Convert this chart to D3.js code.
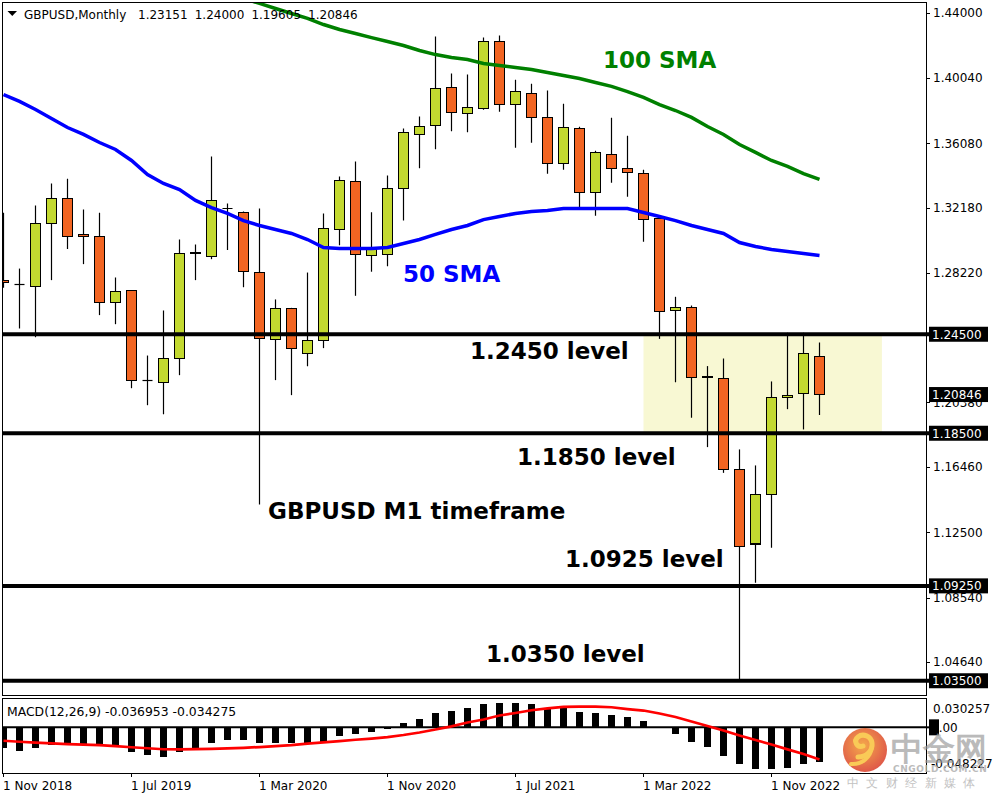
<!DOCTYPE html>
<html>
<head>
<meta charset="utf-8">
<script src="https://cdnjs.cloudflare.com/ajax/libs/d3/7.8.5/d3.min.js"></script>
<style>
  html, body { margin: 0; padding: 0; background: #fff; }
  svg { display: block; }
  text { font-family: "DejaVu Sans", Verdana, sans-serif; }
</style>
</head>
<body>
<script>
// ---------------- DATA ----------------
const months = d3.timeMonth.range(new Date(2018, 10, 1), new Date(2023, 2, 1)); // Nov 2018 .. Feb 2023 (52 bars)

const open  = [1.2774,1.2755,1.2738,1.3119,1.3271,1.3053,1.3041,1.2641,1.2713,1.2174,1.2156,1.2301,1.2938,1.2919,1.3216,1.3186,1.2822,1.2416,1.2604,1.2331,1.2410,1.3083,1.3374,1.2925,1.2932,1.3332,1.3659,1.3713,1.3944,1.3786,1.3816,1.4222,1.3841,1.3907,1.3762,1.3483,1.3695,1.3307,1.3538,1.3453,1.3422,1.3152,1.2592,1.2610,1.2187,1.2180,1.1630,1.1179,1.1477,1.2067,1.2089,1.23151];
const high  = [1.3186,1.2848,1.3230,1.3364,1.3392,1.3206,1.3186,1.2794,1.2713,1.2321,1.2594,1.3024,1.2994,1.3527,1.3242,1.3194,1.3212,1.2661,1.2610,1.2824,1.3182,1.3406,1.3497,1.3190,1.3412,1.3697,1.3770,1.4255,1.4030,1.4024,1.4248,1.4261,1.3992,1.3968,1.3927,1.3847,1.3707,1.3562,1.3762,1.3653,1.3447,1.3152,1.2677,1.2624,1.2257,1.2303,1.1752,1.1655,1.2164,1.2459,1.2459,1.24000];
const low   = [1.2732,1.2485,1.2432,1.2778,1.2966,1.2875,1.2566,1.2511,1.2123,1.2020,1.1965,1.2202,1.2778,1.2905,1.2961,1.2735,1.1418,1.2172,1.2081,1.2256,1.2366,1.2990,1.2683,1.2829,1.2862,1.3139,1.3456,1.3571,1.3681,1.3675,1.3810,1.3798,1.3580,1.3610,1.3422,1.3447,1.3216,1.3168,1.3368,1.3283,1.3010,1.2422,1.2159,1.1944,1.1766,1.1610,1.0360,1.0944,1.1156,1.1996,1.1873,1.19605];
const close = [1.2762,1.2753,1.3119,1.3271,1.3041,1.3041,1.2641,1.2707,1.2168,1.2174,1.2301,1.2938,1.2944,1.3259,1.3216,1.2829,1.2422,1.2604,1.2362,1.2410,1.3089,1.3380,1.2932,1.2972,1.3332,1.3671,1.3707,1.3938,1.3792,1.3822,1.4222,1.3841,1.3919,1.3762,1.3483,1.3701,1.3307,1.3550,1.3453,1.3429,1.3144,1.2586,1.2610,1.2186,1.2193,1.1630,1.1164,1.1477,1.2065,1.2079,1.2331,1.20846];

const sma50 = [1.3903,1.3861,1.3812,1.3758,1.3703,1.3661,1.3612,1.3570,1.3503,1.3418,1.3364,1.3327,1.3261,1.3218,1.3182,1.3139,1.3109,1.3085,1.3061,1.3024,1.2976,1.2970,1.2970,1.2970,1.2976,1.3000,1.3024,1.3055,1.3085,1.3109,1.3145,1.3164,1.3182,1.3194,1.3200,1.3212,1.3212,1.3212,1.3212,1.3212,1.3188,1.3164,1.3139,1.3109,1.3085,1.3061,1.3006,1.2982,1.2964,1.2952,1.2939,1.2927];
const sma100 = [null,null,null,null,null,null,null,null,null,null,null,null,null,null,null,
  1.4485,1.4455,1.4424,1.4394,1.4364,1.4327,1.4297,1.4273,1.4248,1.4224,1.4200,1.4170,1.4145,1.4127,1.4115,1.4091,1.4079,1.4067,1.4055,1.4036,1.4018,1.4000,1.3976,1.3952,1.3921,1.3885,1.3842,1.3806,1.3764,1.3709,1.3661,1.3600,1.3552,1.3503,1.3467,1.3424,1.3388];

const macdMain = [-0.02242,-0.02531,-0.02242,-0.01890,-0.01890,-0.01890,-0.01890,-0.01997,-0.02670,-0.02990,-0.03139,-0.02670,-0.02242,-0.01708,-0.01356,-0.01356,-0.01644,-0.01644,-0.01644,-0.01644,-0.01538,-0.00897,-0.00747,-0.00534,-0.00214,0.00491,0.00886,0.01559,0.01741,0.02093,0.02488,0.02627,0.02627,0.02488,0.02029,0.02029,0.01666,0.01559,0.01313,0.01132,0.00673,-0.00030,-0.00747,-0.01538,-0.02072,-0.03033,-0.03951,-0.04485,-0.04421,-0.04314,-0.03887,-0.036953];
const macdSignal = [-0.01431,-0.01538,-0.01623,-0.01708,-0.01783,-0.01837,-0.01890,-0.01997,-0.02125,-0.02232,-0.02338,-0.02349,-0.02317,-0.02296,-0.02253,-0.02189,-0.02104,-0.01997,-0.01890,-0.01730,-0.01612,-0.01463,-0.01324,-0.01196,-0.01036,-0.00822,-0.00555,-0.00235,0.00107,0.00513,0.00833,0.01260,0.01527,0.01826,0.02029,0.02178,0.02221,0.02210,0.02146,0.01954,0.01794,0.01474,0.01100,0.00619,0.00139,-0.00342,-0.00876,-0.01356,-0.01837,-0.02349,-0.02851,-0.034275];

const levels = [1.2450, 1.1850, 1.0925, 1.0350];
const levelLabels = ["1.2450 level", "1.1850 level", "1.0925 level", "1.0350 level"];
const zone = {from: 40, to: 54.9, top: 1.2450, bottom: 1.1850};

const priceTicks = [1.44000, 1.40040, 1.36080, 1.32180, 1.28220, 1.20380, 1.16460, 1.12500, 1.08540, 1.04640];
const priceTickLabels = ["1.44000","1.40040","1.36080","1.32180","1.28220","1.20380","1.16460","1.12500","1.08540","1.04640"];
const markedPrices = [1.24500, 1.20846, 1.18500, 1.09250, 1.03500];
const markedLabels = ["1.24500","1.20846","1.18500","1.09250","1.03500"];
const macdRange = [-0.048227, 0.030257];
const macdRangeLabels = ["-0.048227", "0.030257"];

const dateTickIndex = [0, 8, 16, 24, 32, 40, 48];
const dateTickLabels = ["1 Nov 2018","1 Jul 2019","1 Mar 2020","1 Nov 2020","1 Jul 2021","1 Mar 2022","1 Nov 2022"];

const headerSymbol = "GBPUSD,Monthly";
const headerOHLC = ["1.23151","1.24000","1.19605","1.20846"];
const macdTitle = "MACD(12,26,9) -0.036953 -0.034275";

// ---------------- LAYOUT ----------------
const L = 2.5, R = 926, mainTop = 2.5, mainBottom = 695.5, macdTop = 698.5, macdBottom = 773;
const bull = "#C3D930", bear = "#F26522";

const x = d3.scaleLinear().domain([0, 51]).range([3.5, 819.5]);
const y = d3.scaleLinear().domain([1.035, 1.44]).range([680.75, 12.5]);
const ym = d3.scaleLinear().domain(macdRange).range([772.5, 699]);

const svg = d3.select("body").append("svg").attr("width", 1000).attr("height", 800);
svg.append("rect").attr("width", 1000).attr("height", 800).attr("fill", "#fff");

const defs = svg.append("defs");
defs.append("clipPath").attr("id", "clipMain").append("rect")
  .attr("x", L + 0.5).attr("y", mainTop + 0.5).attr("width", R - L - 0.5).attr("height", mainBottom - mainTop - 0.5);
defs.append("clipPath").attr("id", "clipMacd").append("rect")
  .attr("x", L + 0.5).attr("y", macdTop + 0.5).attr("width", R - L - 0.5).attr("height", macdBottom - macdTop - 0.5);
const grad = defs.append("radialGradient").attr("id", "wmGrad").attr("cx", "45%").attr("cy", "40%").attr("r", "65%");
grad.append("stop").attr("offset", "0%").attr("stop-color", "#F39A2C");
grad.append("stop").attr("offset", "100%").attr("stop-color", "#D8352A");

const main = svg.append("g").attr("clip-path", "url(#clipMain)");

// zone
main.append("rect")
  .attr("x", x(zone.from)).attr("y", y(zone.top))
  .attr("width", x(zone.to) - x(zone.from)).attr("height", y(zone.bottom) - y(zone.top))
  .attr("fill", "#F8F8D3");

// candles
const bars = d3.range(months.length).map(i => ({i, o: open[i], h: high[i], l: low[i], c: close[i]}));
const cg = main.append("g");
cg.selectAll("line.wick").data(bars).join("line")
  .attr("class", "wick")
  .attr("x1", d => x(d.i)).attr("x2", d => x(d.i))
  .attr("y1", d => y(d.h)).attr("y2", d => y(d.l))
  .attr("stroke", "#000").attr("stroke-width", 1.2);
bars.forEach(d => {
  const top = y(Math.max(d.o, d.c)), bot = y(Math.min(d.o, d.c));
  if (bot - top < 0.8) {
    cg.append("line").attr("x1", x(d.i) - 5).attr("x2", x(d.i) + 5)
      .attr("y1", Math.round(top) + 0.5).attr("y2", Math.round(top) + 0.5)
      .attr("stroke", "#000").attr("stroke-width", 1.2);
  } else {
    cg.append("rect").attr("x", x(d.i) - 5).attr("y", top)
      .attr("width", 10).attr("height", bot - top)
      .attr("fill", d.c >= d.o ? bull : bear)
      .attr("stroke", "#000").attr("stroke-width", 1.2)
      .attr("shape-rendering", "crispEdges");
  }
});

// moving averages
const line = d3.line().defined(d => d.v != null).x(d => x(d.i)).y(d => y(d.v));
main.append("path").datum(sma100.map((v, i) => ({i, v})))
  .attr("d", line).attr("fill", "none").attr("stroke", "#008000").attr("stroke-width", 3.5);
main.append("path").datum(sma50.map((v, i) => ({i, v})))
  .attr("d", line).attr("fill", "none").attr("stroke", "#0000FF").attr("stroke-width", 3.5);

// level lines
svg.selectAll("line.level").data(levels).join("line")
  .attr("class", "level")
  .attr("x1", L).attr("x2", 930)
  .attr("y1", d => y(d)).attr("y2", d => y(d))
  .attr("stroke", "#000").attr("stroke-width", 4);

// annotations
const ann = svg.append("g").attr("font-weight", "bold").attr("font-size", "23px");
const annPos = [[470, 359], [517, 465], [565, 567], [486, 662]];
levelLabels.forEach((t, k) => ann.append("text").attr("x", annPos[k][0]).attr("y", annPos[k][1]).attr("fill", "#000").text(t));
ann.append("text").attr("x", 268).attr("y", 519).attr("fill", "#000").text("GBPUSD M1 timeframe");
ann.append("text").attr("x", 403).attr("y", 282).attr("fill", "#0000FF").text("50 SMA");
ann.append("text").attr("x", 603).attr("y", 68).attr("fill", "#008000").text("100 SMA");

// MACD panel
const mg = svg.append("g").attr("clip-path", "url(#clipMacd)");
mg.selectAll("rect.hist").data(macdMain.map((v, i) => ({i, v}))).join("rect")
  .attr("class", "hist")
  .attr("x", d => x(d.i) - 3.5).attr("width", 7)
  .attr("y", d => Math.min(ym(d.v), ym(0)))
  .attr("height", d => Math.abs(ym(d.v) - ym(0)))
  .attr("fill", "#000").attr("shape-rendering", "crispEdges");
mg.append("line").attr("x1", L).attr("x2", R).attr("y1", ym(0)).attr("y2", ym(0))
  .attr("stroke", "#000").attr("stroke-width", 2);
mg.append("path").datum(macdSignal.map((v, i) => ({i, v})))
  .attr("d", d3.line().x(d => x(d.i)).y(d => ym(d.v)))
  .attr("fill", "none").attr("stroke", "#FF0000").attr("stroke-width", 2.7);

// frames
const frame = svg.append("g").attr("fill", "none").attr("stroke", "#000").attr("stroke-width", 1).attr("shape-rendering", "crispEdges");
frame.append("rect").attr("x", L).attr("y", mainTop).attr("width", R - L).attr("height", mainBottom - mainTop);
frame.append("rect").attr("x", L).attr("y", macdTop).attr("width", R - L).attr("height", macdBottom - macdTop);

// right price axis
const ax = svg.append("g").attr("font-size", "12px");
priceTicks.forEach((v, k) => {
  ax.append("line").attr("x1", R).attr("x2", R + 4).attr("y1", Math.round(y(v)) + 0.5).attr("y2", Math.round(y(v)) + 0.5)
    .attr("stroke", "#000").attr("shape-rendering", "crispEdges");
  ax.append("text").attr("x", 933).attr("y", y(v)).attr("dy", "0.36em").attr("fill", "#000").text(priceTickLabels[k]);
});
markedPrices.forEach((v, k) => {
  ax.append("rect").attr("x", 929).attr("y", y(v) - 7.5).attr("width", 59).attr("height", 15).attr("fill", "#000");
  ax.append("text").attr("x", 932).attr("y", y(v)).attr("dy", "0.36em").attr("fill", "#fff").text(markedLabels[k]);
});
// MACD axis
ax.append("text").attr("x", 933).attr("y", ym(macdRange[1]) + 9.5).attr("dy", "0.36em").attr("fill", "#000").text(macdRangeLabels[1]);
ax.append("text").attr("x", 931).attr("y", ym(macdRange[0]) - 9).attr("dy", "0.36em").attr("fill", "#000").text(macdRangeLabels[0]);
ax.append("line").attr("x1", R).attr("x2", 930).attr("y1", ym(0)).attr("y2", ym(0)).attr("stroke", "#000").attr("stroke-width", 2);
ax.append("rect").attr("x", 929).attr("y", ym(0) - 8).attr("width", 10).attr("height", 16).attr("fill", "#000");
ax.append("text").attr("x", 931).attr("y", ym(0)).attr("dy", "0.36em").attr("fill", "#000").text("0.00");

// bottom date axis
dateTickIndex.forEach((idx, k) => {
  ax.append("line").attr("x1", x(idx)).attr("x2", x(idx)).attr("y1", macdBottom).attr("y2", macdBottom + 4)
    .attr("stroke", "#000");
  ax.append("text").attr("x", x(idx) - 0.5).attr("y", 790).attr("fill", "#000").text(dateTickLabels[k]);
});

// header
svg.append("path").attr("d", "M7.5,11 L17,11 L12.25,16 Z").attr("fill", "#000");
const hdr = svg.append("text").attr("x", 24).attr("y", 18.5).attr("font-size", "12px").attr("fill", "#000");
hdr.append("tspan").text(headerSymbol);
headerOHLC.forEach((t, k) => hdr.append("tspan").attr("x", 138 + k * 56.7).text(t));
svg.append("text").attr("x", 7).attr("y", 715.5).attr("font-size", "12.4px").attr("fill", "#000").text(macdTitle);

// watermark
const wm = svg.append("g").attr("opacity", 0.85);
wm.append("circle").attr("cx", 865).attr("cy", 750).attr("r", 22).attr("fill", "url(#wmGrad)");
wm.append("path").attr("d", "M858,757 C866,757 873,751 872,743 C871,736 863,733 858,737 C853,741 857,748 863,746")
  .attr("fill", "none").attr("stroke", "#F9C13A").attr("stroke-width", 5).attr("stroke-linecap", "round");
wm.append("path").attr("d", "M872,746 C871,757 862,765 851,764")
  .attr("fill", "none").attr("stroke", "#F9C13A").attr("stroke-width", 4).attr("stroke-linecap", "round");
wm.append("text").attr("x", 891).attr("y", 760).attr("font-family", "Noto Sans CJK SC").attr("font-weight", "bold")
  .attr("font-size", "32px").attr("fill", "#9a9a9a").attr("opacity", 0.8).text("中金网");
wm.append("text").attr("x", 893).attr("y", 772).attr("font-family", "DejaVu Sans").attr("font-weight", "bold")
  .attr("font-size", "9px").attr("fill", "#b0b0b0").attr("letter-spacing", "0.6px").text("CNGOLD.COM.CN");
wm.append("text").attr("x", 847).attr("y", 787).attr("font-family", "Noto Sans CJK SC")
  .attr("font-size", "12px").attr("fill", "#b8b8b8").attr("letter-spacing", "7.4px").text("中文财经新媒体");
</script>
</body>
</html>
